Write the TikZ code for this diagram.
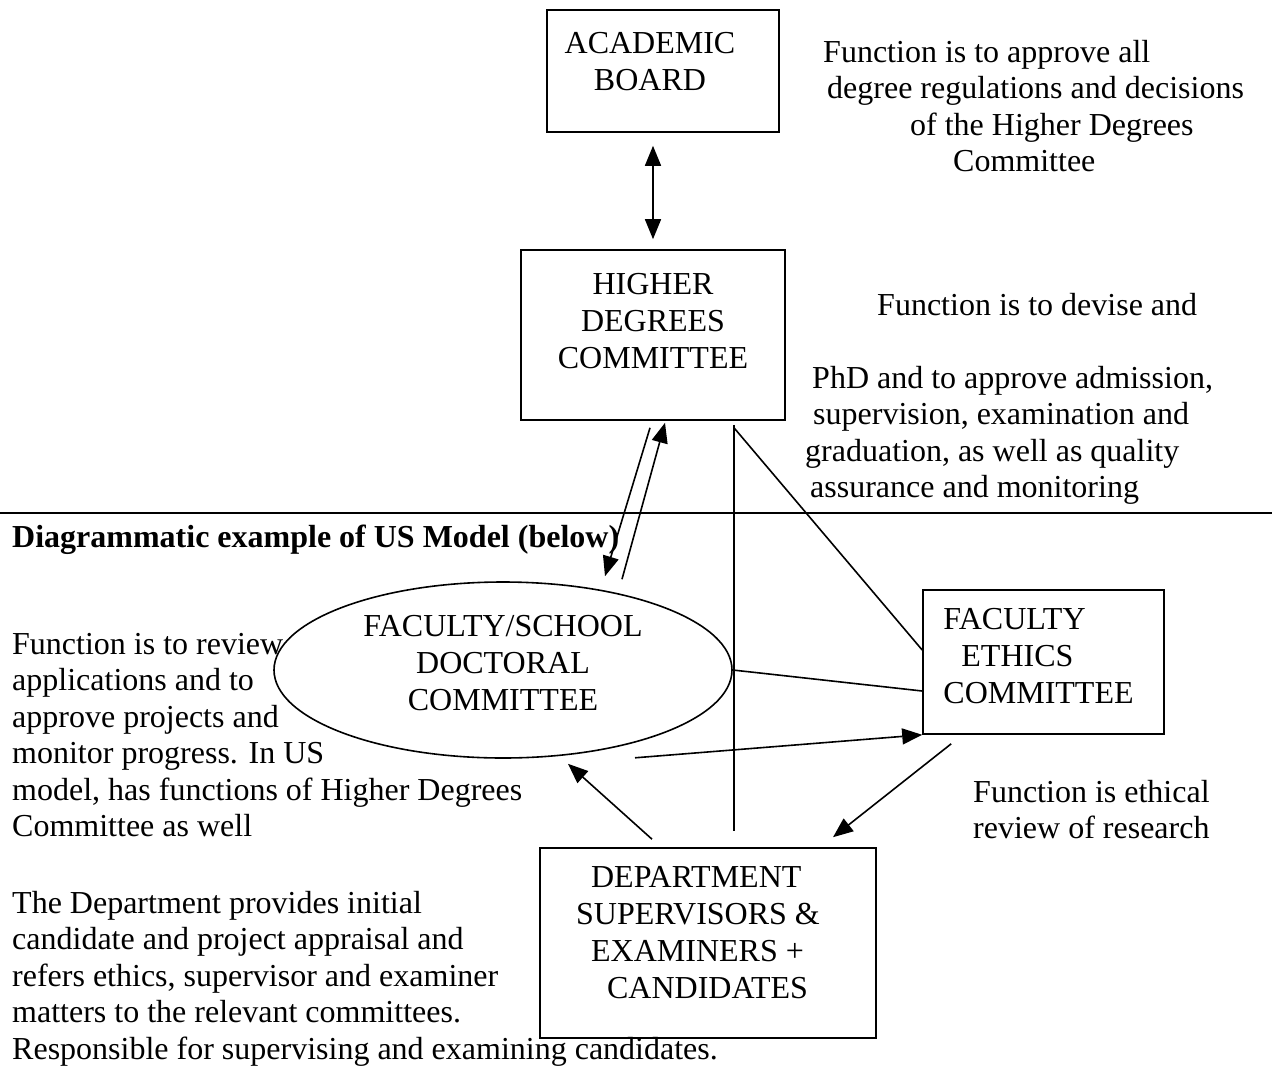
\documentclass[tikz,border=0pt]{standalone}
\usepackage{fontspec}
\setmainfont{Liberation Serif}
\usetikzlibrary{arrows.meta,shapes.geometric}

\tikzset{
  box/.style={draw,line width=1.6pt,align=center,inner sep=0pt,font=\fontsize{32}{37}\selectfont},
  note/.style={align=left,inner sep=0pt,anchor=north west,font=\fontsize{32}{36.5}\selectfont},
  link/.style={line width=1.6pt},
  arr/.style={line width=1.6pt,-{Triangle[length=20pt,width=16pt]}},
  dbl/.style={line width=1.6pt,{Triangle[length=20pt,width=16pt]}-{Triangle[length=20pt,width=16pt]}}
}

\begin{document}
\begin{tikzpicture}[x=1pt,y=-1pt]
\useasboundingbox (0,0) rectangle (1272,1066);
\node[box,minimum width=232pt,minimum height=122pt] (ab) at (663,71) {ACADEMIC\hspace*{26pt}\null\\BOARD\hspace*{26pt}\null\\[-17pt]\mbox{}};
\node[box,minimum width=264pt,minimum height=170pt] (hdc) at (653,335) {HIGHER\\DEGREES\\COMMITTEE\\[-9pt]\mbox{}};
\node[box,ellipse,minimum width=458pt,minimum height=176pt] (fac) at (503,670) {FACULTY/SCHOOL\\DOCTORAL\\COMMITTEE\\[-23pt]\mbox{}};
\node[box,minimum width=241pt,minimum height=144pt,align=left] (eth) at (1043.5,662) {FACULTY\\\hspace*{18pt}ETHICS\\COMMITTEE\hspace*{10pt}\null\\[-25pt]\mbox{}};
\node[box,minimum width=336pt,minimum height=190pt,align=left] (dept) at (708,943) {\hspace*{15pt}DEPARTMENT\\SUPERVISORS \&\hspace*{20pt}\null\\\hspace*{15pt}EXAMINERS +\\\hspace*{31pt}CANDIDATES\\[-15pt]\mbox{}};
\node[note] (abnote) at (823,40) {Function is to approve all\\\hspace*{4pt}degree regulations and decisions\\\hspace*{87pt}of the Higher Degrees\\\hspace*{130pt}Committee};
\node[note] (hdcnote) at (805,293) {\hspace*{72pt}Function is to devise and\\\mbox{}\\\hspace*{7pt}PhD and to approve admission,\\\hspace*{8pt}supervision, examination and\\graduation, as well as quality\\\hspace*{5pt}assurance and monitoring};
\node[note] (facnote) at (12,633) {Function is to review\\applications and to\\approve projects and\\monitor progress. In US\\model, has functions of Higher Degrees\\Committee as well};
\node[note] (ethnote) at (973,780) {Function is ethical\\review of research};
\node[note] (deptnote) at (12,891) {The Department provides initial\\candidate and project appraisal and\\refers ethics, supervisor and examiner\\matters to the relevant committees.\\Responsible for supervising and examining candidates.};
\node[anchor=base west,inner sep=0pt,font=\fontsize{32}{36}\selectfont\bfseries] (title) at (12,547) {Diagrammatic example of US Model (below)};
\draw[line width=2.2pt] (0,513) -- (1272,513);
\draw[dbl,shorten <=13pt,shorten >=10pt] (ab.south -| hdc.north) -- (hdc.north);
\draw[arr] ([shift={(-3,7)}]hdc.south) -- ([shift={(102,-5)}]fac.north);
\draw[arr] ([shift={(119,-2)}]fac.north) -- ([shift={(12,2)}]hdc.south);
\draw[link] ([shift={(81,4)}]hdc.south) -- ([shift={(26,-16)}]dept.north);
\draw[link] ([shift={(81,7)}]hdc.south) -- ([shift={(0,-12)}]eth.west);
\draw[link] (fac.east) -- ([shift={(0,29)}]eth.west);
\draw[arr] ([shift={(132,-1)}]fac.south) -- (eth.south west);
\draw[arr] ([shift={(29,9)}]eth.south west) -- ([shift={(125,-10)}]dept.north);
\draw[arr] ([shift={(-56,-8)}]dept.north) -- ([shift={(65,5)}]fac.south);
\end{tikzpicture}
\end{document}
